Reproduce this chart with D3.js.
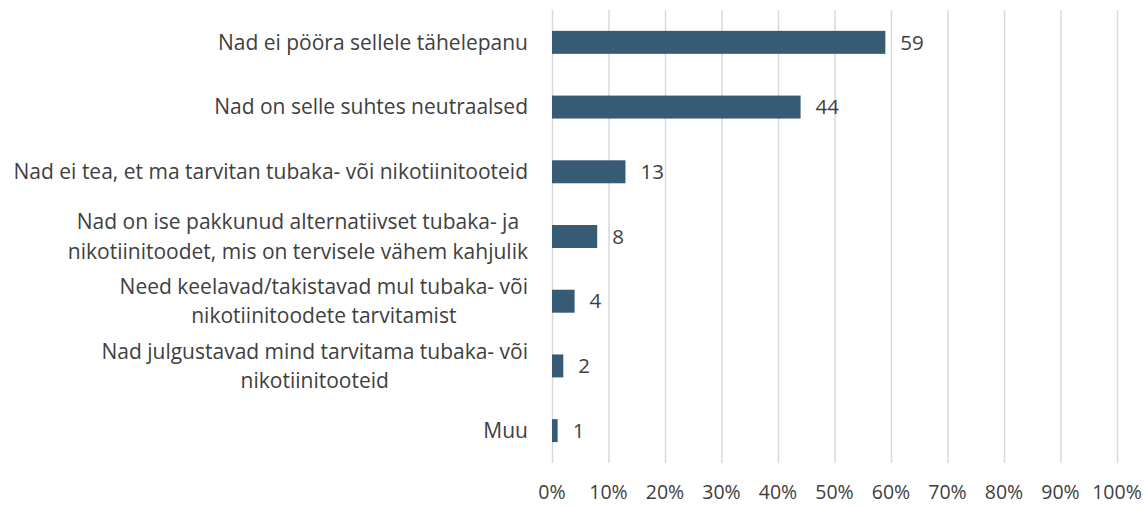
<!DOCTYPE html>
<html>
<head>
<meta charset="utf-8">
<script src="https://cdn.jsdelivr.net/npm/d3@7"></script>
<style>
  body { margin: 0; background: #fff; }
  svg text { font-family: "Open Sans", sans-serif; fill: #404040; font-variant-ligatures: none; }
</style>
</head>
<body>
<svg width="1144" height="506"></svg>
<script>
const categories = [
  ["Nad ei pööra sellele tähelepanu"],
  ["Nad on selle suhtes neutraalsed"],
  ["Nad ei tea, et ma tarvitan tubaka- või nikotiinitooteid"],
  ["Nad on ise pakkunud alternatiivset tubaka- ja", "nikotiinitoodet, mis on tervisele vähem kahjulik"],
  ["Need keelavad/takistavad mul tubaka- või", "nikotiinitoodete tarvitamist"],
  ["Nad julgustavad mind tarvitama tubaka- või", "nikotiinitooteid"],
  ["Muu"]
];
const values = [59, 44, 13, 8, 4, 2, 1];
const ticks = [0, 10, 20, 30, 40, 50, 60, 70, 80, 90, 100];

const svg = d3.select("svg");
const margin = { top: 10, left: 552, right: 27, bottom: 43 };
const width = 1144 - margin.left - margin.right,
      height = 506 - margin.top - margin.bottom;

const x = d3.scaleLinear().domain([0, 100]).range([0, width]);
const y = d3.scaleBand().domain(d3.range(categories.length)).range([0, height]).paddingInner(0.645).paddingOuter(0.3225);

const g = svg.append("g").attr("transform", `translate(${margin.left},${margin.top})`);

// gridlines
g.selectAll(".grid")
  .data(ticks)
  .enter().append("line")
  .attr("x1", d => x(d) + 0.5)
  .attr("x2", d => x(d) + 0.5)
  .attr("y1", 0)
  .attr("y2", height)
  .attr("stroke", "#d9d9d9")
  .attr("stroke-width", 1.5);

// x tick labels
g.selectAll(".tick")
  .data(ticks)
  .enter().append("text")
  .attr("x", d => x(d))
  .attr("y", height + 36)
  .attr("text-anchor", "middle")
  .style("font-size", "19.5px")
  .text(d => d + "%");

// bars
g.selectAll(".bar")
  .data(values)
  .enter().append("rect")
  .attr("x", 0)
  .attr("y", (d, i) => y(i))
  .attr("width", d => x(d))
  .attr("height", y.bandwidth())
  .attr("fill", "#375a75");

// value labels
g.selectAll(".val")
  .data(values)
  .enter().append("text")
  .attr("x", d => x(d) + 15)
  .attr("y", (d, i) => y(i) + y.bandwidth() / 2)
  .attr("dy", "0.35em")
  .style("font-size", "20.5px")
  .text(d => d);

// category labels, centred lines, right edge against the axis
const lineH = 29.5;
categories.forEach((lines, i) => {
  const cy = y(i) + y.bandwidth() / 2;
  const t = g.append("text")
    .attr("text-anchor", "middle")
    .style("font-size", "21px");
  lines.forEach((l, j) => {
    t.append("tspan")
      .attr("y", cy + (j - (lines.length - 1) / 2) * lineH)
      .attr("dy", "0.35em")
      .text(l);
  });
  const w = d3.max(t.selectAll("tspan").nodes(), n => n.getComputedTextLength());
  t.selectAll("tspan").attr("x", -24 - w / 2);
});
</script>
</body>
</html>
